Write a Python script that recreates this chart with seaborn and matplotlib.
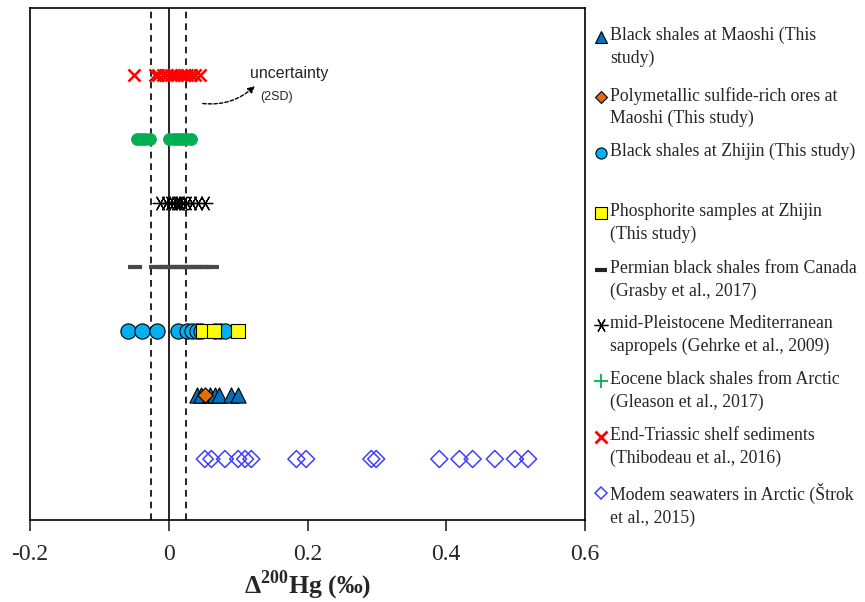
import numpy as np
import matplotlib as mpl
mpl.use('Agg')
import matplotlib.pyplot as plt
import seaborn as sns

# delta-200Hg values (permil), one list per group
triassic = [-0.05, -0.02, -0.015, -0.008, -0.002, 0.003, 0.008, 0.012, 0.017, 0.022, 0.027, 0.032, 0.038, 0.045]
eocene = [-0.046, -0.04, -0.034, -0.027, 0.001, 0.007, 0.013, 0.019, 0.025, 0.032]
pleistocene = [-0.012, -0.004, 0.002, 0.006, 0.01, 0.013, 0.016, 0.02, 0.026, 0.033, 0.042, 0.052]
permian = [-0.048, -0.018, -0.01, -0.003, 0.004, 0.011, 0.018, 0.025, 0.032, 0.039, 0.046, 0.054, 0.062]
zhijin_shale = [-0.059, -0.039, -0.017, 0.013, 0.026, 0.033, 0.04, 0.047, 0.066, 0.074, 0.081]
zhijin_phos = [0.05, 0.065, 0.1]
maoshi_shale = [0.04, 0.046, 0.06, 0.066, 0.072, 0.09, 0.1]
maoshi_ore = [0.052]
seawater = [0.052, 0.0615, 0.081, 0.1, 0.11, 0.119, 0.184, 0.198, 0.292, 0.299,
            0.39, 0.419, 0.438, 0.47, 0.499, 0.518]

x_ticks = [-0.2, 0, 0.2, 0.4, 0.6]
x_tick_labels = ['-0.2', '0', '0.2', '0.4', '0.6']
sd2 = 0.025

legend_labels = [
    'Black shales at Maoshi (This\nstudy)',
    'Polymetallic sulfide-rich ores at\nMaoshi (This study)',
    'Black shales at Zhijin (This study)',
    'Phosphorite samples at Zhijin\n(This study)',
    'Permian black shales from Canada\n(Grasby et al., 2017)',
    'mid-Pleistocene Mediterranean\nsapropels (Gehrke et al., 2009)',
    'Eocene black shales from Arctic\n(Gleason et al., 2017)',
    'End-Triassic shelf sediments\n(Thibodeau et al., 2016)',
    'Modem seawaters in Arctic (\u0160trok\net al., 2015)',
]

sns.set_style('white')
plt.rcParams['font.family'] = ['Liberation Serif', 'DejaVu Serif']
plt.rcParams['mathtext.fontset'] = 'custom'
plt.rcParams['mathtext.rm'] = 'Liberation Serif:bold'

fig = plt.figure(figsize=(8.65, 6.02), dpi=100)
ax = fig.add_axes([30 / 865, 82 / 602, 555 / 865, 512 / 602])

ASTER = (6, 2, 90)
groups = [
    # values, row, marker, size, face, edge, lw
    (triassic, 7, 'x', 75, 'red', 'red', 1.8),
    (eocene, 6, 'o', 75, '#00b050', '#00b050', 0.5),
    (pleistocene, 5, ASTER, 110, 'black', 'black', 0.9),
    (permian, 4, '_', 110, '#4a4a4a', '#4a4a4a', 3.0),
    (zhijin_shale, 3, 'o', 120, '#00b0f0', 'black', 0.8),
    (zhijin_phos, 3, 's', 100, '#ffff00', 'black', 0.8),
    (maoshi_shale, 2, '^', 120, '#0070c0', 'black', 0.8),
    (maoshi_ore, 2, 'D', 60, '#e46c0a', 'black', 0.8),
    (seawater, 1, 'D', 75, 'none', '#3f3fff', 1.1),
]
for vals, row, mk, s, fc, ec, lw in groups:
    sns.scatterplot(x=vals, y=[row] * len(vals), marker=mk, s=s,
                    facecolor=fc, edgecolor=ec, linewidth=lw, ax=ax,
                    legend=False, zorder=3)

ax.axvline(0, color='black', lw=1.2, zorder=1)
for v in (-sd2, sd2):
    ax.axvline(v, color='black', lw=1.2, ls=(0, (4, 3)), zorder=1)

ax.set_xlim(-0.2, 0.6)
ax.set_ylim(0.047, 8.047)
ax.set_yticks([])
ax.set_xticks(x_ticks)
ax.set_xticklabels(x_tick_labels, fontsize=17)
ax.tick_params(axis='x', direction='out', length=8, width=1.2, pad=9, bottom=True)
for sp in ax.spines.values():
    sp.set_color('black')
    sp.set_linewidth(1.2)
ax.set_xlabel(r'$\Delta^{200}$Hg (‰)', fontsize=18.5, fontweight='bold', labelpad=3)

ax.text(0.173, 7.03, 'uncertainty', family='Liberation Sans', fontsize=11.5,
        ha='center', va='center')
ax.text(0.156, 6.66, '(2SD)', family='Liberation Sans', fontsize=9,
        ha='center', va='center')
ax.annotate('', xy=(0.127, 6.86), xytext=(0.045, 6.56),
            arrowprops=dict(arrowstyle='-|>', ls=(0, (2.5, 1.5)), lw=1.0,
                            color='black', connectionstyle='arc3,rad=0.25',
                            mutation_scale=10))

# legend drawn in pixel space on the right
lax = fig.add_axes([0, 0, 1, 1])
lax.set_xlim(0, 865)
lax.set_ylim(602, 0)
lax.axis('off')
leg_y = [37, 97, 153, 213, 270, 325, 381, 437, 493]
leg_markers = [
    ('^', 8, '#0070c0', 'black', 0.8),
    ('D', 6, '#e46c0a', 'black', 0.8),
    ('o', 8, '#00b0f0', 'black', 0.8),
    ('s', 8, '#ffff00', 'black', 0.8),
    ('_', 9, '#222222', '#222222', 3.0),
    (ASTER, 10, 'black', 'black', 0.9),
    ('+', 10, '#00b050', '#00b050', 1.3),
    ('x', 8, 'red', 'red', 2.0),
    ('D', 6, 'white', '#3f3fff', 1.1),
]
for y, lab, (mk, ms, fc, ec, lw) in zip(leg_y, legend_labels, leg_markers):
    lax.plot([601], [y], marker=mk, ms=ms, mfc=fc, mec=ec, mew=lw, color=ec, ls='none')
    lax.text(610, y - 10, lab, fontsize=12.8, ha='left', va='top', linespacing=1.4)

plt.savefig('out.png', dpi=100)
